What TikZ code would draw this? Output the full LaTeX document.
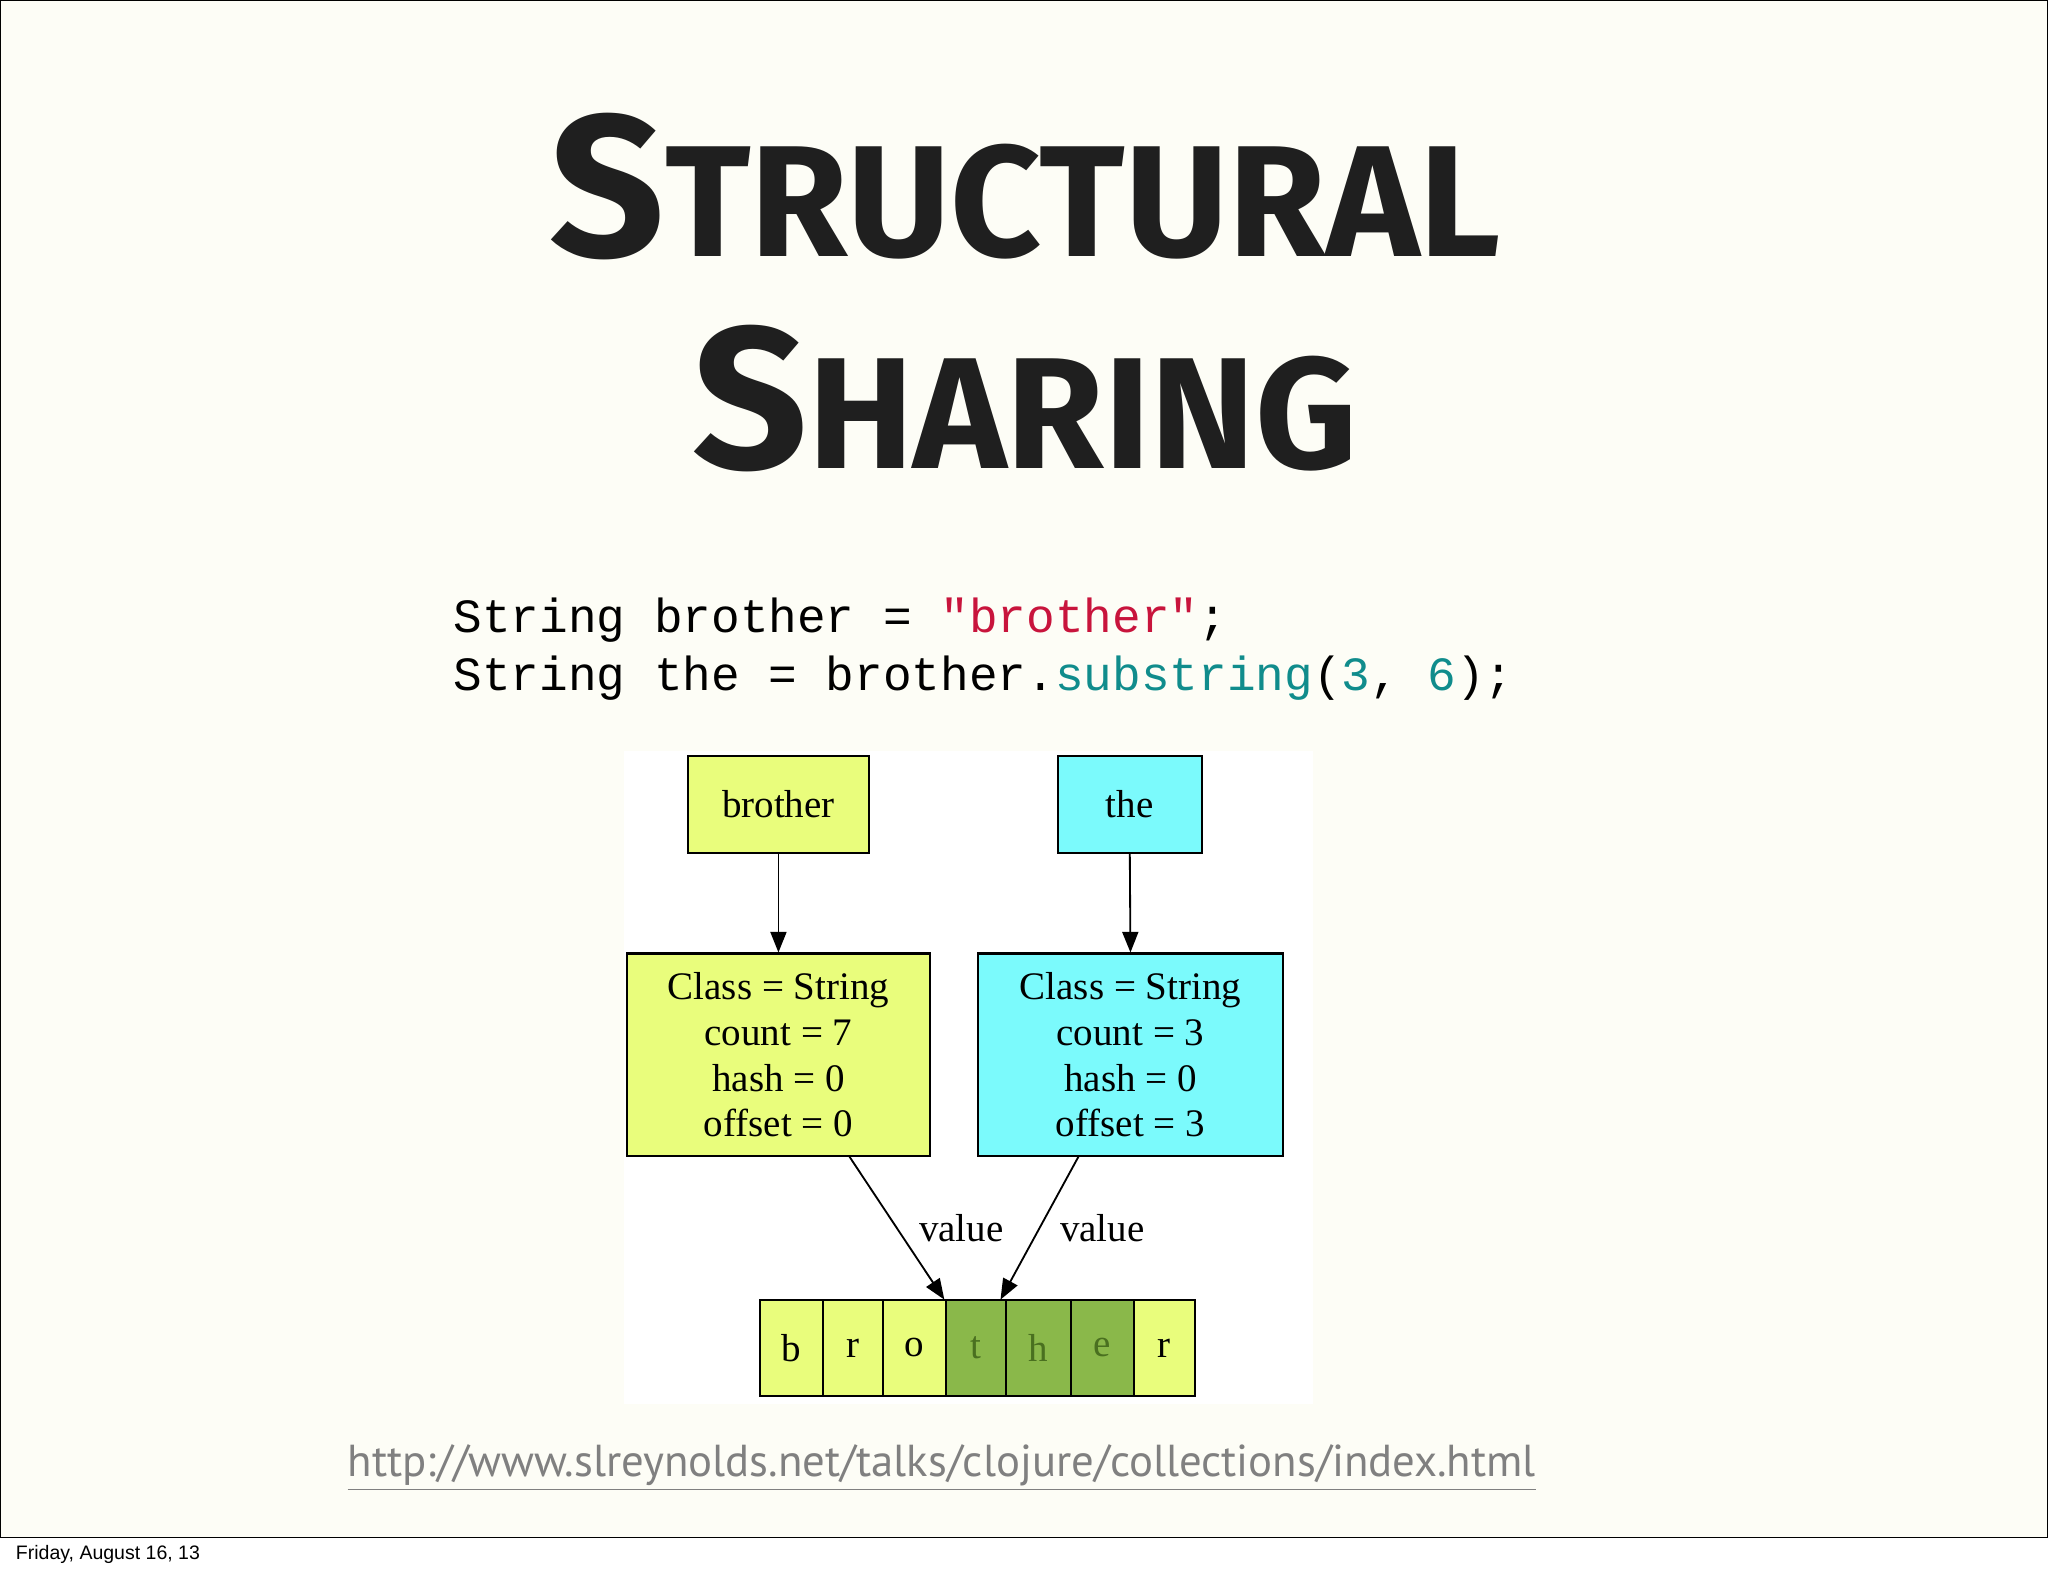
\documentclass[tikz,border=0pt]{standalone}
\usepackage{fontspec}
\setmainfont{Liberation Serif}
\newfontfamily\titlefont{Fira Sans}
\newfontfamily\codefont{Liberation Mono}
\newfontfamily\urlfont{PT Sans}
\newfontfamily\smallsans{Liberation Sans}
\usetikzlibrary{arrows.meta}
\definecolor{slidebg}{HTML}{FDFDF6}
\definecolor{yel}{HTML}{E9FD7C}
\definecolor{cya}{HTML}{7BFAFC}
\definecolor{grn}{HTML}{8AB84A}
\definecolor{grntxt}{HTML}{4A7020}
\definecolor{strred}{HTML}{C8143C}
\definecolor{teal}{HTML}{108C8C}
\tikzset{
  box/.style={draw=black, line width=0.9pt, inner sep=0pt, font=\fontsize{17}{20}\selectfont},
  cell/.style={draw=black, line width=0.9pt, inner sep=0pt, minimum height=1.48cm, font=\fontsize{17}{20}\selectfont},
  arr/.style={-{Triangle[length=9pt,width=7pt]}, line width=0.8pt},
}
\begin{document}
\begin{tikzpicture}[x=0.02cm,y=-0.02cm]
\useasboundingbox (0,0) rectangle (1568,1207);
\fill[white] (0,0) rectangle (1568,1207);
\draw[fill=slidebg, line width=0.6pt] (0,0) rectangle (1568,1177);
\fill[white] (478,575) rectangle (1005,1075);
% title
\node[font=\titlefont\bfseries, text=black!88] (t1) at (785,143)
  {\fontsize{88}{90}\selectfont S\fontsize{69}{70}\selectfont TRUCTURAL};
\node[font=\titlefont\bfseries, text=black!88] (t2) at (785,305)
  {\fontsize{88}{90}\selectfont S\fontsize{69}{70}\selectfont HARING};
% code
\node[anchor=base west, inner sep=0pt, font=\codefont\fontsize{20.8}{24}\selectfont] (c1) at (347,484)
  {String brother = \textcolor{strred}{"brother"};};
\node[anchor=base west, inner sep=0pt, font=\codefont\fontsize{20.8}{24}\selectfont] (c2) at (347,529)
  {String the = brother.\textcolor{teal}{substring}(\textcolor{teal}{3}, \textcolor{teal}{6});};
% nodes
\node[box, fill=yel, minimum width=2.76cm, minimum height=1.48cm] (bro) at (596,616) {brother};
\node[box, fill=cya, minimum width=2.2cm, minimum height=1.48cm] (the) at (865,616) {the};
\node[box, fill=yel, minimum width=4.64cm, minimum height=3.1cm, align=center] (s1) at (596,807.5)
  {Class = String\\count = 7\\hash = 0\\offset = 0};
\node[box, fill=cya, minimum width=4.66cm, minimum height=3.1cm, align=center] (s2) at (865.5,807.5)
  {Class = String\\count = 3\\hash = 0\\offset = 3};
% array
\node[cell, fill=yel, minimum width=0.96cm] (a1) at (606,1032) {b};
\node[cell, fill=yel, minimum width=0.92cm] (a2) at (653,1032) {r};
\node[cell, fill=yel, minimum width=0.96cm] (a3) at (700,1032) {o};
\node[cell, fill=grn, text=grntxt, minimum width=0.92cm] (a4) at (747,1032) {t};
\node[cell, fill=grn, text=grntxt, minimum width=1.0cm] (a5) at (795,1032) {h};
\node[cell, fill=grn, text=grntxt, minimum width=0.96cm] (a6) at (844,1032) {e};
\node[cell, fill=yel, minimum width=0.94cm] (a7) at (891.5,1032) {r};
% arrows
\draw[arr] (bro.south) -- (s1.north);
\draw[arr] (the.south) -- (s2.north);
\coordinate (v1s) at (650,885);
\coordinate (v1e) at (723,995);
\coordinate (v2s) at (826,885);
\coordinate (v2e) at (766,995);
\draw[arr] (v1s) -- (v1e);
\draw[arr] (v2s) -- (v2e);
\node[font=\fontsize{17}{20}\selectfont] (l1) at (736,940) {value};
\node[font=\fontsize{17}{20}\selectfont] (l2) at (844,940) {value};
% url
\node[font=\urlfont\fontsize{19.5}{22}\selectfont, text=black!50] (url) at (721,1124)
  {\underline{http://www.slreynolds.net/talks/clojure/collections/index.html}};
\node[anchor=west, font=\smallsans\fontsize{8.5}{10}\selectfont] (date) at (6,1190) {Friday, August 16, 13};
\end{tikzpicture}
\end{document}
